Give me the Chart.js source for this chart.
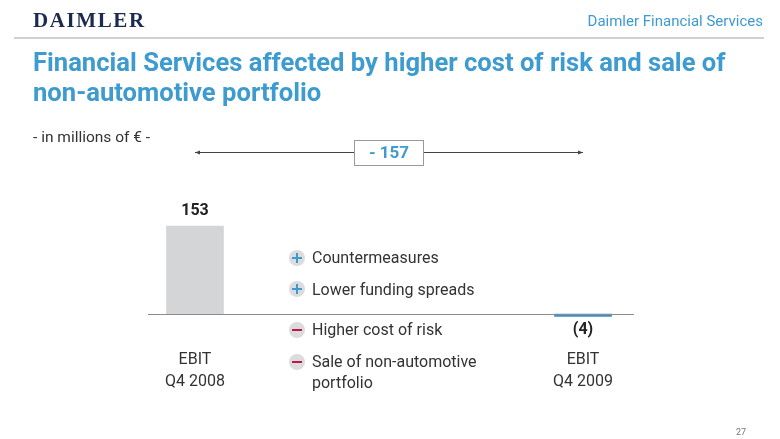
<!DOCTYPE html>
<html>
<head>
<meta charset="utf-8">
<script src="https://cdn.jsdelivr.net/npm/chart.js@4"></script>
<style>
  html, body { margin: 0; padding: 0; background: #fff; }
  #page { position: relative; width: 780px; height: 439px; overflow: hidden; font-family: Roboto, "Liberation Sans", sans-serif; }
  #chartWrap { position: absolute; left: 0; top: 0; width: 780px; height: 439px; }
  .abs { position: absolute; white-space: nowrap; }
  .logo { left: 33px; top: 8px; font-family: "Liberation Serif", "DejaVu Serif", serif; font-weight: bold; font-size: 21px; letter-spacing: 1.6px; color: #1c2a50; }
  .unit { right: 17px; top: 12px; font-size: 15px; color: #3f9ad0; }
  .rule { left: 14px; top: 37px; width: 750px; height: 2px; background: #d0d0d0; }
  .title { left: 33px; top: 47px; font-family: "Liberation Sans Narrow", "Roboto", sans-serif; font-weight: bold; font-size: 25.6px; line-height: 30px; color: #3d9bd0; }
  .sub { left: 33px; top: 128px; font-size: 15.5px; color: #333; }
  .item { left: 312px; font-size: 16px; color: #333; line-height: 21px; }
  .icon { position: absolute; left: 289px; width: 16px; height: 16px; border-radius: 50%; background: #dcdcde; }
  .icon::before, .icon::after { content: ""; position: absolute; background: var(--c); }
  .icon::before { left: 3px; top: 7px; width: 10px; height: 2px; }
  .plus::after { left: 7px; top: 3px; width: 2px; height: 10px; }
  .minus::after { display: none; }
  .pnum { left: 736px; top: 427px; font-size: 9px; color: #777; }
</style>
</head>
<body>
<div id="page">
  <div id="chartWrap"><canvas id="ebitChart"></canvas></div>
  <div class="abs logo">DAIMLER</div>
  <div class="abs unit">Daimler Financial Services</div>
  <div class="abs rule"></div>
  <div class="abs title">Financial Services affected by higher cost of risk and sale of<br>non-automotive portfolio</div>
  <div class="abs sub">- in millions of € -</div>

  <div class="icon plus" style="top:250px; --c:#3d9bd0"></div>
  <div class="abs item" style="top:247px">Countermeasures</div>
  <div class="icon plus" style="top:281px; --c:#3d9bd0"></div>
  <div class="abs item" style="top:279px">Lower funding spreads</div>
  <div class="icon minus" style="top:322px; --c:#c0183c"></div>
  <div class="abs item" style="top:319px">Higher cost of risk</div>
  <div class="icon minus" style="top:354px; --c:#c0183c"></div>
  <div class="abs item" style="top:351px">Sale of non-automotive<br>portfolio</div>

  <div class="abs pnum">27</div>
</div>
<script>
  const categories = [['EBIT', 'Q4 2008'], ['EBIT', 'Q4 2009']];
  const ebitValues = [153, -4];
  const valueLabels = ['153', '(4)'];
  const changeLabel = '- 157';
  const barColors = ['#d4d5d7', '#3a8fcb'];

  // 値ラベル・ゼロ線・差分の矢印を描く
  const slidePlugin = {
    id: 'slidePlugin',
    afterDatasetsDraw(chart) {
      const ctx = chart.ctx;
      const xs = chart.scales.x;
      const ys = chart.scales.y;
      const area = chart.chartArea;
      const y0 = ys.getPixelForValue(0);

      ctx.save();
      ctx.strokeStyle = '#8c8c8c';
      ctx.lineWidth = 1;
      ctx.beginPath();
      ctx.moveTo(area.left, y0 + 0.5);
      ctx.lineTo(area.right, y0 + 0.5);
      ctx.stroke();

      ctx.font = 'bold 16px Roboto, sans-serif';
      ctx.fillStyle = '#222';
      ctx.textAlign = 'center';
      ctx.textBaseline = 'middle';
      ebitValues.forEach((v, i) => {
        const x = xs.getPixelForValue(i);
        const y = ys.getPixelForValue(v);
        if (v >= 0) ctx.fillText(valueLabels[i], x, y - 15);
        else ctx.fillText(valueLabels[i], x, y + 14);
      });

      // 矢印
      const x1 = xs.getPixelForValue(0);
      const x2 = xs.getPixelForValue(1);
      const ya = 152.5;
      ctx.strokeStyle = '#444';
      ctx.fillStyle = '#444';
      ctx.beginPath();
      ctx.moveTo(x1, ya);
      ctx.lineTo(x2, ya);
      ctx.stroke();
      [[x1, 1], [x2, -1]].forEach(([x, d]) => {
        ctx.beginPath();
        ctx.moveTo(x, ya);
        ctx.lineTo(x + 5 * d, ya - 2);
        ctx.lineTo(x + 5 * d, ya + 2);
        ctx.closePath();
        ctx.fill();
      });

      const xm = (x1 + x2) / 2;
      ctx.fillStyle = '#fff';
      ctx.fillRect(xm - 35, 140, 70, 26);
      ctx.strokeStyle = '#999';
      ctx.strokeRect(xm - 34.5, 140.5, 69, 25);
      ctx.font = 'bold 17px Roboto, sans-serif';
      ctx.fillStyle = '#3d9bd0';
      ctx.fillText(changeLabel, xm, 153.5);
      ctx.restore();
    }
  };

  const chart = new Chart(document.getElementById('ebitChart'), {
    type: 'bar',
    data: {
      datasets: [{
        data: ebitValues.map((v, i) => ({ x: i, y: v })),
        backgroundColor: barColors,
        barThickness: 57,
        borderWidth: 0
      }]
    },
    options: {
      responsive: true,
      maintainAspectRatio: false,
      animation: false,
      layout: { padding: { left: 148, right: 146, top: 190, bottom: 29 } },
      plugins: { legend: { display: false }, tooltip: { enabled: false } },
      scales: {
        x: {
          type: 'linear',
          offset: false,
          min: -0.1211,
          max: 1.1314,
          grid: { display: false, drawTicks: false },
          border: { display: false },
          afterBuildTicks: (axis) => { axis.ticks = [{ value: 0 }, { value: 1 }]; },
          afterFit: (axis) => { axis.height = 70; },
          ticks: {
            padding: 9,
            maxRotation: 0,
            autoSkip: false,
            color: '#333',
            font: { family: 'Roboto, sans-serif', size: 16, lineHeight: 1.375 },
            callback: (v) => categories[v]
          }
        },
        y: {
          display: false,
          min: -45.2,
          max: 215.7
        }
      }
    },
    plugins: [slidePlugin]
  });
</script>
</body>
</html>
